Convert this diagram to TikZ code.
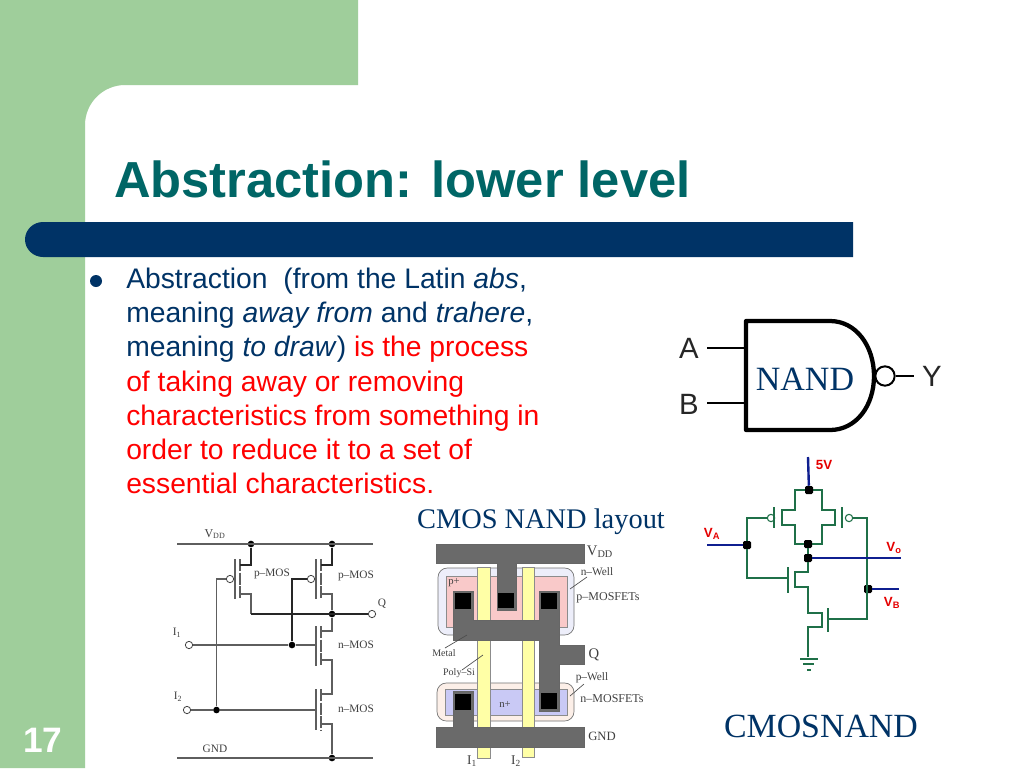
\documentclass[tikz,border=0pt]{standalone}
\usepackage{fontspec}
\setmainfont{Liberation Sans}
\newfontfamily\serifb{Liberation Serif}
\definecolor{band}{HTML}{9FCE9B}
\definecolor{navy}{HTML}{003366}
\definecolor{teal}{HTML}{006666}
\definecolor{cgreen}{HTML}{1F7048}
\definecolor{cblue}{HTML}{0F1F90}
\definecolor{wire}{HTML}{5E5E5E}
\definecolor{metal}{HTML}{6A6A6A}
\definecolor{nwell}{HTML}{EDEEFA}
\definecolor{pplus}{HTML}{F9C9C9}
\definecolor{pwell}{HTML}{FCEFE8}
\definecolor{nplus}{HTML}{C9C9F5}
\definecolor{poly}{HTML}{FFFFA6}
\newcommand{\pxfont}[2]{\fontsize{#1}{#2}\selectfont}
\tikzset{
 x=0.75pt,y=-0.75pt,
 small/.style={font=\serifb\pxfont{8.5}{9},text=black!75,inner sep=0pt},
 wirea/.style={draw=wire,line width=0.8pt},
 wireb/.style={draw=black!85,line width=1.2pt},
 chan/.style={draw=wire,line width=0.8pt,dash pattern=on 9pt off 1.2pt},
 dotk/.style={circle,fill=black,inner sep=0pt,minimum size=5pt},
 term/.style={circle,draw=black!75,fill=white,line width=0.6pt,inner sep=0pt,minimum size=5.5pt},
 gw/.style={draw=cgreen,line width=1.8pt},
 bw/.style={draw=cblue,line width=1.8pt},
 sq/.style={rectangle,fill=black,inner sep=0pt,minimum size=6pt,rounded corners=1pt},
 redl/.style={font=\bfseries\pxfont{10}{11},text=red!90!black,inner sep=0pt},
 capt/.style={font=\serifb\pxfont{21.3}{23},text=navy,inner sep=0pt},
 metalf/.style={fill=metal,draw=black!60,line width=0.3pt},
 polyf/.style={fill=poly,draw=black!45,line width=0.5pt},
 contact/.style={fill=black},
 lead/.style={draw=black!70,line width=0.5pt},
 gatel/.style={draw=black,line width=1.4pt},
 letter/.style={font=\pxfont{22}{24},text=black!85,inner sep=0pt},
}
\begin{document}
\begin{tikzpicture}
\useasboundingbox (0,0) rectangle (1024,768);
\fill[white] (0,0) rectangle (1024,768);
% background band
\fill[band] (0,0) -- (358,0) -- (358,85) -- (125,85) .. controls (103,85) and (85,103) .. (85,125) -- (85,768) -- (0,768) -- cycle;
\fill[navy] (43,222) -- (853,222) -- (853,257) -- (43,257) .. controls (33,257) and (25,249) .. (25,239.5) .. controls (25,230) and (33,222) .. (43,222) -- cycle;
\node[anchor=base west,inner sep=0pt,font=\bfseries\pxfont{38}{40},text=teal] (title) at (114,197) {Abstraction: lower level};
\node[circle,fill=navy,inner sep=0pt,minimum size=9pt] (bullet) at (96,281) {};
\node[anchor=north west,inner sep=0pt,align=left,font=\pxfont{21.2}{25.7},text=navy] (body) at (126,267.5) {Abstraction\ \ (from the Latin \textit{abs},\\
meaning \textit{away from} and \textit{trahere},\\
meaning \textit{to draw}) \textcolor{red}{is the process}\\
\textcolor{red}{of taking away or removing}\\
\textcolor{red}{characteristics from something in}\\
\textcolor{red}{order to reduce it to a set of}\\
\textcolor{red}{essential characteristics.}};
\node[font=\bfseries\pxfont{26.5}{28},text=white,inner sep=0pt] (pageno) at (43,740) {17};

% NAND gate
\draw[gatel] (707,348) coordinate (na) -- (746,348);
\draw[gatel] (707,403) coordinate (nb) -- (746,403);
\draw[draw=black,line width=3.2pt,line join=round] (746,321) -- (830,321) .. controls (856,321) and (874,346) .. (874,376) .. controls (874,406) and (856,430) .. (830,430) -- (746,430) -- cycle;
\node[circle,draw=black,line width=1.5pt,fill=white,inner sep=0pt,minimum size=14.5pt] (bub) at (885,376) {};
\draw[gatel] (bub.east) -- (914,376);
\node[letter] (la) at (689,348) {A};
\node[letter] (lb) at (689,404) {B};
\node[letter] (ly) at (932,376) {Y};
\node[font=\serifb\pxfont{25.5}{28},text=navy,inner sep=0pt] (nandt) at (805,379) {NAND};

% Captions
\node[capt] (c1) at (541,522) {CMOS NAND layout};
\node[capt,font=\serifb\pxfont{25.4}{27}] (c2) at (821,726) {CMOSNAND};

% --- left schematic ---
\node[dotk] (d1) at (251,544) {};
\node[dotk] (d2) at (332,544) {};
\node[dotk] (d3) at (332,614) {};
\node[dotk] (d4) at (292,645) {};
\node[dotk] (d5) at (216.5,710) {};
\node[dotk] (d6) at (332,758) {};
\node[term] (tq) at (372,614) {};
\node[term] (t1) at (189,645) {};
\node[term] (t2) at (187,710) {};
\node[term] (g1) at (230,579) {};
\node[term] (g2) at (311,579) {};
\coordinate (vl) at (177,544); \coordinate (vr) at (373,544);
\coordinate (gl) at (177,758); \coordinate (gr) at (373,758);
\draw[wirea] (vl) -- (vr);
\draw[wirea] (gl) -- (gr);
\draw[wirea] (235,559) -- (235,599);
\draw[chan] (240,559) -- (240,599);
\draw[wirea] (316,559) -- (316,599);
\draw[chan] (321,559) -- (321,599);
\draw[wirea] (316,626) -- (316,666);
\draw[chan] (321,626) -- (321,666);
\draw[wirea] (316,689) -- (316,730);
\draw[chan] (321,689) -- (321,730);
\draw[wireb] (d1) |- (240,565);
\draw[wirea] (240,594) -| (251,614);
\draw[wireb] (251,614) -- (tq);
\draw[wireb] (d2) |- (321,565);
\draw[wirea] (321,594) -| (d3);
\draw[wirea] (d3) |- (321,631);
\draw[wirea] (321,660) -| (332,694) -- (321,694);
\draw[wirea] (321,724) -| (d6);
\draw[wirea] (g1) -| (d5);
\draw[wireb] (g2) -| (d4);
\draw[wirea] (t1) -- (d4) -- (316,645);
\draw[wirea] (t2) -- (d5) -- (316,710);
\node[small,font=\serifb\pxfont{9}{10}] (v1) at (215,534) {V\textsubscript{DD}};
\node[small] (pm1) at (272,574) {p–MOS};
\node[small] (pm2) at (356,576) {p–MOS};
\node[small] (qq) at (382,604) {Q};
\node[small] (i1) at (177,633) {I\textsubscript{1}};
\node[small] (i2) at (178,697) {I\textsubscript{2}};
\node[small] (nm1) at (356,645) {n–MOS};
\node[small] (nm2) at (356,709) {n–MOS};
\node[small] (gg) at (215,749) {GND};

% --- layout ---
\draw[draw=black!55,fill=nwell,line width=0.5pt,rounded corners=7pt] (438,568) rectangle (574,635);
\draw[draw=black!45,fill=pplus,line width=0.4pt] (446,576) rectangle (567,627);
\draw[draw=black!55,fill=pwell,line width=0.5pt,rounded corners=7pt] (437,683) rectangle (574,721);
\draw[draw=black!45,fill=nplus,line width=0.4pt] (445,689) rectangle (567,715);
\draw[polyf] (477,567) rectangle (490,758);
\draw[polyf] (522,567) rectangle (534,757);
\draw[metalf] (436,544) rectangle (584,563);
\draw[metalf] (497,563) rectangle (516,610);
\draw[metalf] (436,727) rectangle (584,747);
\draw[metalf] (453,691) rectangle (473,727);
\fill[metal] (498,561) rectangle (515,566);
\fill[metal] (454,725) rectangle (472,729);
\draw[metalf] (453,591) -- (473,591) -- (473,620) -- (539,620) -- (539,591) -- (559,591) -- (559,645) -- (584,645) -- (584,664) -- (559,664) -- (559,711) -- (539,711) -- (539,640) -- (453,640) -- cycle;
\fill[contact] (455,593) rectangle (471,609);
\fill[contact] (498,593) rectangle (514,608);
\fill[contact] (541,593) rectangle (557,609);
\fill[contact] (541,693) rectangle (557,709);
\fill[contact] (455,694) rectangle (471,710);
\draw[lead] (570,589) -- (587,577);
\draw[lead] (467,635) -- (445,648);
\draw[lead] (483,655) -- (462,670);
\draw[lead] (570,696) -- (584,684);
\node[small] (l1) at (600,552) {\pxfont{11}{12}V\textsubscript{DD}};
\node[small] (l2) at (597,572) {n–Well};
\node[small] (l3) at (608,598) {\pxfont{9}{10}p–MOSFETs};
\node[small] (l4) at (444,653) {\pxfont{7.5}{9}Metal};
\node[small] (l5) at (594,655) {\pxfont{11}{12}Q};
\node[small] (l6) at (459,673) {\pxfont{7.5}{9}Poly–Si};
\node[small] (l7) at (592,678) {p–Well};
\node[small] (l8) at (612,699) {\pxfont{9}{10}n–MOSFETs};
\node[small] (l9) at (505,704) {\pxfont{8}{9}n+};
\node[small] (l10) at (454,583) {\pxfont{8}{9}p+};
\node[small] (l11) at (602,736) {\pxfont{9.5}{10}GND};
\node[small] (l12) at (472,761) {\pxfont{10}{11}I\textsubscript{1}};
\node[small] (l13) at (516,761) {\pxfont{10}{11}I\textsubscript{2}};

% --- right schematic ---
\draw[gw] (809,490) -- (795,490) -- (795,510) -- (782,510) -- (782,525) -- (795,525) -- (795,544) -- (822,544) -- (822,525) -- (835,525) -- (835,510) -- (822,510) -- (822,490) -- (809,490);
\node[sq] (top) at (809,490) {};
\node[sq] (mid) at (808,544) {};
\node[sq] (out) at (808,558) {};
\node[sq] (ja) at (747,545) {};
\node[sq] (jb) at (868,589) {};
\coordinate (vcc) at (808,457);
\coordinate (vain) at (707,545);
\coordinate (vo) at (901,558);
\coordinate (vbo) at (899,589);
\draw[gw] (774,507) -- (774,528);
\draw[gw] (842,507) -- (842,528);
\node[circle,draw=cgreen,line width=0.8pt,inner sep=0pt,minimum width=2.5pt,minimum height=5.5pt] (bl) at (771,518) {};
\node[circle,draw=cgreen,line width=0.8pt,inner sep=0pt,minimum width=3pt,minimum height=5.5pt] (br) at (849,518) {};
\draw[gw] (bl) -- (747,518) -- (ja) -- (747,578) -- (787,578);
\draw[gw] (788,567) -- (788,593);
\draw[gw] (br) -- (867,518) -- (867,619) -- (828,619);
\draw[gw] (828,608) -- (828,632);
\draw[gw] (mid) -- (out) -- (808,572) -- (795,572) -- (795,587) -- (808,587) -- (808,613) -- (822,613) -- (822,627) -- (808,627) -- (808,657);
\draw[gw] (800,659) -- (818,659);
\draw[gw] (803,664) -- (814,664);
\draw[gw] (807,670) -- (811,670);
\draw[bw] (vcc) -- (top);
\draw[bw] (vain) -- (ja);
\draw[bw] (out) -- (vo);
\draw[bw] (jb) -- (vbo);
\node[redl] (r1) at (824,465) {5V};
\node[redl] (r2) at (712,534) {V\textsubscript{A}};
\node[redl] (r3) at (894,548) {V\textsubscript{o}};
\node[redl] (r4) at (892,603) {V\textsubscript{B}};
\end{tikzpicture}
\end{document}
